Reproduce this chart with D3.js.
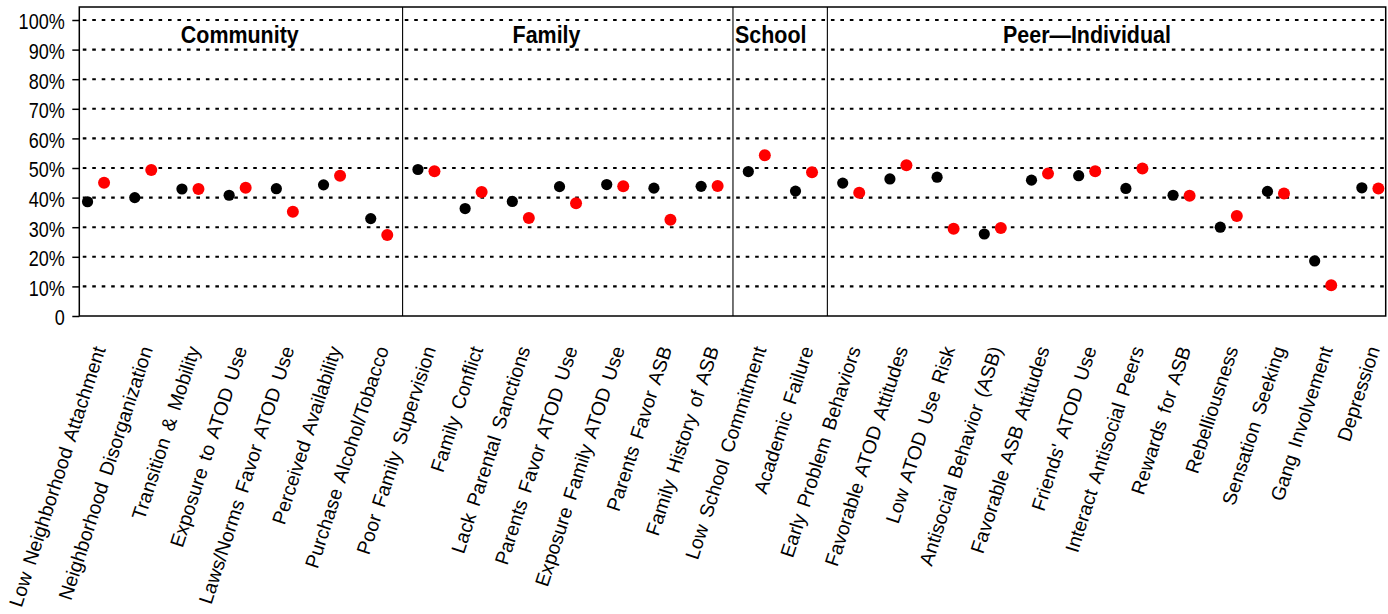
<!DOCTYPE html>
<html>
<head>
<meta charset="utf-8">
<script src="https://cdn.jsdelivr.net/npm/d3@7"></script>
<style>
  html, body { margin: 0; padding: 0; background: #fff; }
  svg { display: block; }
  text { font-family: "Liberation Sans", Arial, Helvetica, sans-serif; fill: #000; }
</style>
</head>
<body>
<svg id="chart" width="1388" height="614"></svg>
<script>
// Risk factor scales, grouped by domain
const categories = [
  "Low Neighborhood Attachment", "Neighborhood Disorganization", "Transition & Mobility",
  "Exposure to ATOD Use", "Laws/Norms Favor ATOD Use", "Perceived Availability",
  "Purchase Alcohol/Tobacco",
  "Poor Family Supervision", "Family Conflict", "Lack Parental Sanctions",
  "Parents Favor ATOD Use", "Exposure Family ATOD Use", "Parents Favor ASB",
  "Family History of ASB",
  "Low School Commitment", "Academic Failure",
  "Early Problem Behaviors", "Favorable ATOD Attitudes", "Low ATOD Use Risk",
  "Antisocial Behavior (ASB)", "Favorable ASB Attitudes", "Friends' ATOD Use",
  "Interact Antisocial Peers", "Rewards for ASB", "Rebelliousness",
  "Sensation Seeking", "Gang Involvement", "Depression"
];

// Percent at risk, two comparison series
const seriesBlack = [
  38.6, 40.0, 42.9, 40.8, 43.0, 44.3, 32.9,
  49.5, 36.3, 38.7, 43.7, 44.4, 43.2, 43.8,
  48.8, 42.2,
  44.9, 46.3, 46.9, 27.7, 45.9, 47.4, 43.1, 40.8, 30.0, 42.1, 18.6, 43.3
];
const seriesRed = [
  45.0, 49.3, 42.9, 43.3, 35.2, 47.4, 27.4,
  48.9, 41.9, 33.1, 38.1, 43.8, 32.5, 43.9,
  54.3, 48.6,
  41.6, 50.9, 29.5, 29.7, 48.1, 48.9, 49.8, 40.6, 33.8, 41.4, 10.4, 43.1
];

// Domains: name, number of scales, title position (in scale index units)
const groupNames = ["Community", "Family", "School", "Peer\u2014Individual"];
const groupSizes = [7, 7, 2, 12];
const groupTitleAt = [4.05, 10.55, 15.3, 22.0];

const yTicks = [0, 10, 20, 30, 40, 50, 60, 70, 80, 90, 100];
const yTickLabels = ["0", "10%", "20%", "30%", "40%", "50%", "60%", "70%", "80%", "90%", "100%"];

const svg = d3.select("#chart");
const plotLeft = 79.3, plotRight = 1385.7, plotTop = 7, plotBottom = 316;

const x = d3.scaleLinear().domain([0.65, categories.length + 0.33]).range([plotLeft, plotRight]);
const y = d3.scaleLinear().domain([0, 100]).range([plotBottom, 20]);
const pairOffset = 0.175;

// dotted reference lines
svg.append("g")
  .selectAll("line")
  .data(yTicks.filter(d => d > 0))
  .join("line")
  .attr("x1", plotLeft).attr("x2", plotRight)
  .attr("y1", d => y(d)).attr("y2", d => y(d))
  .attr("stroke", "#000")
  .attr("stroke-width", 2.1)
  .attr("stroke-dasharray", "3.6 5.87")
  .attr("stroke-dashoffset", 6);

// domain separators
let cum = 0;
const sepIdx = [];
groupSizes.slice(0, -1).forEach(n => { cum += n; sepIdx.push(cum + 0.5); });
svg.append("g")
  .selectAll("line")
  .data(sepIdx)
  .join("line")
  .attr("x1", d => x(d)).attr("x2", d => x(d))
  .attr("y1", plotTop).attr("y2", plotBottom)
  .attr("stroke", "#000")
  .attr("stroke-width", 1.1);

// plot frame
svg.append("rect")
  .attr("x", plotLeft).attr("y", plotTop)
  .attr("width", plotRight - plotLeft).attr("height", plotBottom - plotTop)
  .attr("fill", "none")
  .attr("stroke", "#000")
  .attr("stroke-width", 1.5);

// y axis
const yAxis = d3.axisLeft(y)
  .tickValues(yTicks)
  .tickSize(7)
  .tickFormat((d, i) => yTickLabels[i]);
const ya = svg.append("g").attr("transform", `translate(${plotLeft},0)`).call(yAxis);
ya.select(".domain").remove();
ya.selectAll(".tick line").attr("stroke", "#000").attr("stroke-width", 1.5);
ya.selectAll(".tick text")
  .attr("x", null).attr("dy", null)
  .attr("transform", "translate(-14.5,8.8) scale(0.84,1)")
  .style("font-size", "21.5px")
  .style("font-family", "'Liberation Sans', Arial, sans-serif")
  .attr("fill", "#000");

// domain titles
svg.append("g")
  .selectAll("text")
  .data(groupNames)
  .join("text")
  .attr("transform", (d, i) => `translate(${x(groupTitleAt[i])},42.5) scale(0.875,1)`)
  .attr("text-anchor", "middle")
  .style("font-size", "24.5px")
  .style("font-weight", "bold")
  .text(d => d);

// points
const dots = svg.append("g");
dots.selectAll("circle.b")
  .data(seriesBlack)
  .join("circle")
  .attr("class", "b")
  .attr("cx", (d, i) => x(i + 1 - pairOffset))
  .attr("cy", d => y(d))
  .attr("r", 5.6)
  .attr("fill", "#000");
dots.selectAll("circle.r")
  .data(seriesRed)
  .join("circle")
  .attr("class", "r")
  .attr("cx", (d, i) => x(i + 1 + pairOffset))
  .attr("cy", d => y(d))
  .attr("r", 6)
  .attr("fill", "#ff0000");

// rotated category labels
svg.append("g")
  .selectAll("text")
  .data(categories)
  .join("text")
  .attr("transform", (d, i) => `translate(${x(i + 1) + 10},349) rotate(-72)`)
  .attr("text-anchor", "end")
  .style("font-size", "19.5px")
  .style("word-spacing", "3px")
  .text(d => d);
</script>
</body>
</html>
